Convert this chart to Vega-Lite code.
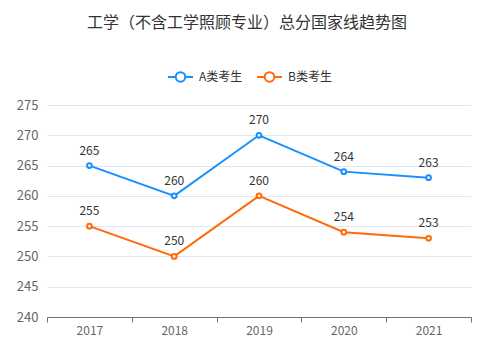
{
  "$schema": "https://vega.github.io/schema/vega-lite/v6.json",
  "autosize": "none",
  "width": 424,
  "height": 212,
  "padding": {"left": 47, "top": 105, "right": 22, "bottom": 38},
  "background": "white",
  "title": {
    "text": "工学（不含工学照顾专业）总分国家线趋势图",
    "fontSize": 16,
    "fontWeight": "normal",
    "color": "#333333",
    "font": "Noto Sans CJK SC",
    "anchor": "middle",
    "frame": "group",
    "dx": -12,
    "offset": 32
  },
  "data": {
    "values": [
      {"year": "2017", "group": "A类考生", "score": 265},
      {"year": "2018", "group": "A类考生", "score": 260},
      {"year": "2019", "group": "A类考生", "score": 270},
      {"year": "2020", "group": "A类考生", "score": 264},
      {"year": "2021", "group": "A类考生", "score": 263},
      {"year": "2017", "group": "B类考生", "score": 255},
      {"year": "2018", "group": "B类考生", "score": 250},
      {"year": "2019", "group": "B类考生", "score": 260},
      {"year": "2020", "group": "B类考生", "score": 254},
      {"year": "2021", "group": "B类考生", "score": 253}
    ]
  },
  "encoding": {
    "x": {
      "field": "year",
      "type": "ordinal",
      "scale": {"type": "band", "paddingInner": 0, "paddingOuter": 0},
      "axis": {
        "title": null,
        "labelAngle": 0,
        "tickBand": "extent",
        "domainColor": "#6E7079",
        "tickColor": "#6E7079",
        "tickSize": 5,
        "labelColor": "#666666",
        "labelFontSize": 12,
        "labelFont": "Noto Sans CJK SC",
        "labelPadding": 3,
        "grid": false
      }
    },
    "y": {
      "field": "score",
      "type": "quantitative",
      "scale": {"domain": [240, 275], "nice": false, "zero": false},
      "axis": {
        "title": null,
        "values": [240, 245, 250, 255, 260, 265, 270, 275],
        "domain": false,
        "ticks": false,
        "gridColor": "#E0E6F1",
        "labelColor": "#666666",
        "labelFontSize": 13,
        "labelFont": "Noto Sans CJK SC",
        "labelPadding": 9
      }
    },
    "color": {
      "field": "group",
      "type": "nominal",
      "scale": {"domain": ["A类考生", "B类考生"], "range": ["#1890FF", "#FF6A0A"]},
      "legend": {
        "title": null,
        "orient": "none",
        "legendX": 120,
        "legendY": -42,
        "direction": "horizontal",
        "symbolType": "M-1,0H-0.38M0.38,0H1M-0.38,0A0.38,0.38 0 1,0 0.38,0A0.38,0.38 0 1,0 -0.38,0",
        "symbolSize": 625,
        "symbolStrokeWidth": 2,
        "symbolFillColor": "white",
        "labelFontSize": 12,
        "labelColor": "#333333",
        "labelFont": "Noto Sans CJK SC",
        "columnPadding": 10,
        "labelOffset": 5,
        "padding": 0
      }
    }
  },
  "layer": [
    {
      "mark": {
        "type": "line",
        "strokeWidth": 2,
        "point": {"filled": false, "fill": "white", "size": 22, "strokeWidth": 2}
      }
    },
    {
      "mark": {"type": "text", "dy": -15, "fontSize": 12, "font": "Noto Sans CJK SC", "color": "#333333"},
      "encoding": {
        "text": {"field": "score", "type": "quantitative"},
        "color": {"value": "#333333"}
      }
    }
  ],
  "config": {"view": {"stroke": null}}
}
